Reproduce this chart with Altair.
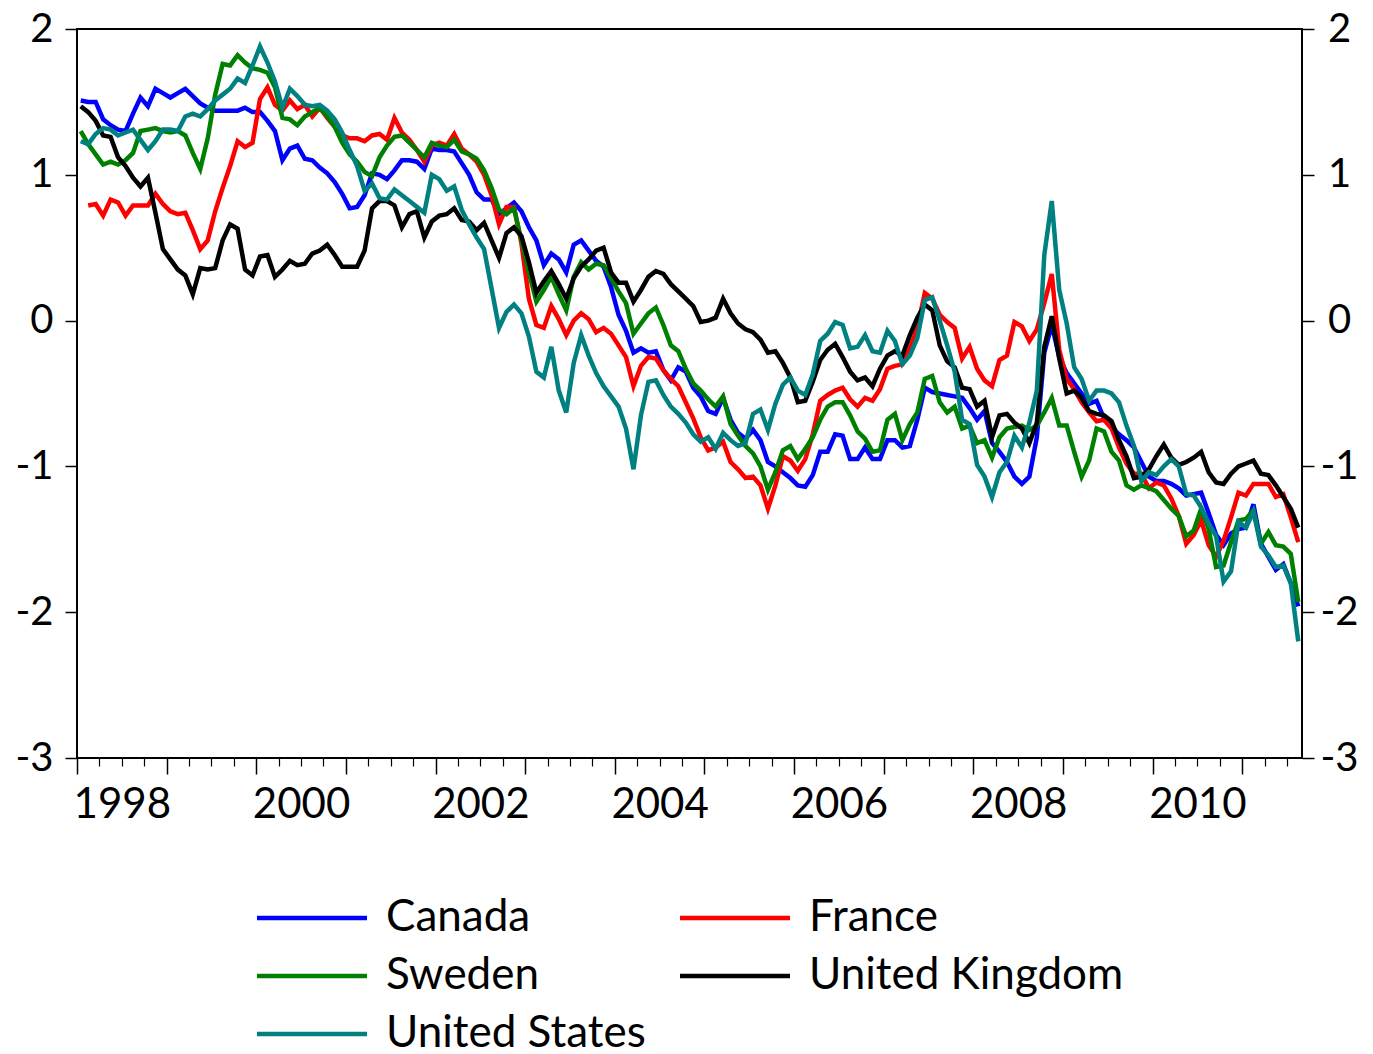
import altair as alt
import pandas as pd

countries = ["Canada", "France", "Sweden", "United Kingdom", "United States"]
colors = ["#0000FF", "#FF0000", "#008000", "#000000", "#008080"]
# legend fills column by column: Canada, Sweden, United States | France, United Kingdom
legend_order = ["Canada", "Sweden", "United States", "France", "United Kingdom"]

# monthly values, first month given by *_start (months after Jan 1998)
canada_start = 0
canada = [1.51,1.50,1.50,1.38,1.34,1.31,1.30,1.42,1.53,1.47,1.59,1.56,
 1.53,1.56,1.59,1.54,1.49,1.46,1.44,1.44,1.44,1.44,1.46,1.43,
 1.43,1.37,1.30,1.10,1.18,1.20,1.11,1.10,1.05,1.01,0.95,0.87,
 0.77,0.78,0.86,1.01,1.00,0.97,1.03,1.10,1.10,1.09,1.04,1.18,
 1.17,1.17,1.16,1.08,1.00,0.88,0.83,0.83,0.73,0.77,0.81,0.75,
 0.64,0.55,0.38,0.46,0.42,0.33,0.52,0.55,0.48,0.41,0.37,0.23,
 0.04,-0.07,-0.22,-0.19,-0.22,-0.21,-0.34,-0.41,-0.32,-0.35,-0.46,-0.52,
 -0.62,-0.64,-0.53,-0.68,-0.77,-0.81,-0.75,-0.82,-0.97,-1.00,-1.04,-1.08,
 -1.13,-1.14,-1.06,-0.90,-0.90,-0.78,-0.79,-0.95,-0.95,-0.87,-0.95,-0.95,
 -0.82,-0.82,-0.87,-0.86,-0.68,-0.46,-0.49,-0.50,-0.51,-0.52,-0.53,-0.60,
 -0.68,-0.62,-0.84,-0.90,-0.97,-1.07,-1.12,-1.07,-0.80,-0.22,-0.03,-0.25,
 -0.36,-0.43,-0.50,-0.57,-0.55,-0.67,-0.73,-0.78,-0.82,-0.87,-0.97,-1.07,
 -1.10,-1.10,-1.12,-1.15,-1.20,-1.19,-1.18,-1.32,-1.47,-1.54,-1.46,-1.43,
 -1.42,-1.26,-1.53,-1.62,-1.71,-1.67,-1.80,-1.96]

france_start = 1
france = [0.79,0.80,0.72,0.83,0.81,0.72,0.79,0.79,0.79,0.87,0.80,
 0.75,0.73,0.74,0.62,0.49,0.55,0.75,0.91,1.06,1.23,1.19,1.22,
 1.52,1.60,1.48,1.44,1.51,1.45,1.48,1.40,1.46,1.39,1.33,1.27,
 1.25,1.25,1.23,1.27,1.28,1.24,1.39,1.29,1.24,1.17,1.09,1.20,
 1.22,1.20,1.28,1.18,1.14,1.09,1.00,0.86,0.66,0.78,0.78,0.53,
 0.15,-0.03,-0.05,0.10,0.01,-0.10,0.00,0.05,0.01,-0.08,-0.05,-0.09,
 -0.17,-0.25,-0.45,-0.31,-0.25,-0.26,-0.34,-0.40,-0.45,-0.56,-0.67,-0.80,
 -0.89,-0.87,-0.83,-0.97,-1.02,-1.08,-1.07,-1.13,-1.29,-1.13,-0.93,-0.96,
 -1.03,-0.95,-0.78,-0.55,-0.51,-0.48,-0.46,-0.54,-0.59,-0.53,-0.55,-0.47,
 -0.33,-0.31,-0.30,-0.19,-0.05,0.19,0.15,0.04,-0.01,-0.05,-0.26,-0.18,
 -0.33,-0.41,-0.45,-0.27,-0.24,-0.01,-0.04,-0.14,-0.06,0.12,0.32,-0.20,
 -0.40,-0.47,-0.56,-0.63,-0.69,-0.68,-0.74,-0.87,-0.98,-1.05,-1.05,-1.15,
 -1.11,-1.13,-1.22,-1.34,-1.53,-1.47,-1.37,-1.54,-1.62,-1.51,-1.35,-1.18,
 -1.20,-1.12,-1.12,-1.12,-1.21,-1.19,-1.35,-1.52]

sweden_start = 0
sweden = [1.30,1.21,1.14,1.07,1.09,1.07,1.10,1.15,1.30,1.31,1.32,1.30,
 1.29,1.30,1.27,1.15,1.04,1.25,1.55,1.76,1.75,1.82,1.77,1.73,
 1.72,1.70,1.60,1.39,1.38,1.34,1.40,1.43,1.46,1.40,1.33,1.22,
 1.14,1.09,1.02,0.99,1.12,1.20,1.26,1.27,1.22,1.17,1.12,1.22,
 1.20,1.19,1.24,1.16,1.14,1.11,1.03,0.91,0.76,0.73,0.77,0.55,
 0.33,0.13,0.21,0.30,0.18,0.07,0.30,0.40,0.35,0.39,0.38,0.29,
 0.20,0.12,-0.09,-0.02,0.05,0.09,-0.03,-0.17,-0.21,-0.33,-0.43,-0.48,
 -0.54,-0.59,-0.52,-0.71,-0.79,-0.86,-0.91,-1.00,-1.16,-1.04,-0.89,-0.86,
 -0.95,-0.88,-0.80,-0.68,-0.59,-0.56,-0.56,-0.65,-0.76,-0.81,-0.90,-0.89,
 -0.68,-0.64,-0.82,-0.71,-0.63,-0.40,-0.38,-0.56,-0.63,-0.59,-0.74,-0.72,
 -0.84,-0.82,-0.94,-0.80,-0.74,-0.73,-0.72,-0.75,-0.72,-0.63,-0.53,-0.72,
 -0.72,-0.90,-1.07,-0.96,-0.74,-0.76,-0.90,-0.96,-1.13,-1.16,-1.13,-1.15,
 -1.17,-1.23,-1.29,-1.34,-1.48,-1.44,-1.29,-1.43,-1.69,-1.68,-1.52,-1.37,
 -1.36,-1.30,-1.53,-1.45,-1.54,-1.55,-1.60,-1.93]

uk_start = 0
uk = [1.47,1.43,1.37,1.27,1.26,1.12,1.06,0.98,0.92,0.98,0.74,0.49,
 0.42,0.35,0.31,0.18,0.36,0.35,0.36,0.55,0.66,0.63,0.35,0.31,
 0.44,0.45,0.30,0.35,0.41,0.38,0.39,0.46,0.48,0.52,0.45,0.37,
 0.37,0.37,0.48,0.77,0.82,0.82,0.79,0.64,0.73,0.75,0.57,0.68,
 0.72,0.73,0.77,0.69,0.68,0.62,0.67,0.55,0.43,0.60,0.64,0.58,
 0.40,0.19,0.27,0.34,0.25,0.15,0.29,0.37,0.42,0.48,0.50,0.33,
 0.26,0.26,0.13,0.21,0.30,0.34,0.32,0.25,0.20,0.15,0.10,-0.01,
 0.00,0.02,0.15,0.05,-0.02,-0.06,-0.08,-0.13,-0.22,-0.21,-0.29,-0.39,
 -0.56,-0.55,-0.42,-0.27,-0.20,-0.16,-0.25,-0.35,-0.41,-0.39,-0.45,-0.33,
 -0.24,-0.21,-0.24,-0.10,0.02,0.11,0.07,-0.17,-0.28,-0.32,-0.46,-0.47,
 -0.59,-0.55,-0.80,-0.65,-0.64,-0.70,-0.74,-0.84,-0.70,-0.18,0.03,-0.26,
 -0.50,-0.48,-0.53,-0.62,-0.64,-0.65,-0.69,-0.82,-0.93,-1.08,-1.07,-1.02,
 -0.93,-0.85,-0.94,-0.99,-0.97,-0.94,-0.90,-1.04,-1.11,-1.12,-1.05,-1.00,
 -0.98,-0.96,-1.05,-1.06,-1.13,-1.21,-1.29,-1.42]

us_start = 0
us = [1.23,1.21,1.28,1.32,1.31,1.27,1.29,1.31,1.24,1.17,1.23,1.31,
 1.31,1.30,1.40,1.42,1.40,1.45,1.51,1.55,1.59,1.66,1.63,1.75,
 1.88,1.77,1.64,1.46,1.59,1.54,1.48,1.47,1.48,1.44,1.38,1.29,
 1.17,1.06,0.89,0.94,0.84,0.83,0.90,0.86,0.82,0.78,0.74,1.00,
 0.97,0.89,0.92,0.76,0.66,0.57,0.49,0.22,-0.05,0.06,0.11,0.05,
 -0.11,-0.35,-0.39,-0.18,-0.48,-0.63,-0.29,-0.10,-0.24,-0.36,-0.45,-0.52,
 -0.59,-0.74,-1.02,-0.65,-0.42,-0.41,-0.51,-0.59,-0.64,-0.70,-0.78,-0.83,
 -0.80,-0.88,-0.77,-0.82,-0.86,-0.84,-0.64,-0.61,-0.75,-0.57,-0.44,-0.39,
 -0.48,-0.51,-0.37,-0.14,-0.09,-0.01,-0.03,-0.19,-0.18,-0.10,-0.21,-0.22,
 -0.07,-0.14,-0.30,-0.24,-0.12,0.14,0.16,0.00,-0.17,-0.35,-0.68,-0.71,
 -0.99,-1.07,-1.21,-1.04,-0.97,-0.79,-0.87,-0.70,-0.48,0.45,0.82,0.21,
 -0.02,-0.32,-0.40,-0.55,-0.48,-0.48,-0.50,-0.56,-0.72,-0.86,-1.10,-1.04,
 -1.06,-1.00,-0.95,-1.00,-1.19,-1.20,-1.28,-1.39,-1.48,-1.79,-1.72,-1.38,
 -1.42,-1.31,-1.55,-1.61,-1.69,-1.68,-1.80,-2.20]

y_ticks = [-3, -2, -1, 0, 1, 2]
year_ticks = list(range(1998, 2012))
label_years = [1998, 2000, 2002, 2004, 2006, 2008, 2010]

series = [("Canada", canada_start, canada), ("France", france_start, france),
          ("Sweden", sweden_start, sweden), ("United Kingdom", uk_start, uk),
          ("United States", us_start, us)]
rows = []
for name, start, vals in series:
    for k, v in enumerate(vals):
        rows.append({"country": name, "t": 1998 + (start + k + 0.5) / 12.0, "value": v})
df = pd.DataFrame(rows)

quarter_ticks = [y + q / 4 for y in range(1998, 2012) for q in (1, 2, 3) if y + q / 4 < 2011.66]
label_pos = [y + 0.5 for y in label_years]

FONT = "Lato"
HYPHEN = "datum.value < 0 ? '-' + abs(datum.value) : '' + datum.value"
x_scale = alt.Scale(domain=[1998, 2011 + 8 / 12], nice=False, zero=False)
y_scale = alt.Scale(domain=[-3, 2], nice=False, zero=False)
color_map = dict(zip(countries, colors))

base = alt.Chart(df)

lines = base.mark_line(strokeWidth=4.5).encode(
    x=alt.X("t:Q", scale=x_scale, title=None,
            axis=alt.Axis(orient="bottom", values=label_pos, labelExpr="floor(datum.value)",
                          tickSize=0, domain=False, grid=False, labelFont=FONT,
                          labelFontSize=42, labelColor="black", labelPadding=26,
                          labelFlush=False, labelOverlap=False)),
    y=alt.Y("value:Q", scale=y_scale, title=None,
            axis=alt.Axis(orient="left", values=y_ticks, tickSize=12, tickWidth=1.5,
                          tickColor="black", domain=False, grid=False, labelFont=FONT,
                          labelFontSize=40, labelColor="black", labelPadding=12,
                          labelAlign="right", labelBaseline="middle", labelFlush=False,
                          labelExpr=HYPHEN)),
    color=alt.Color("country:N",
                    scale=alt.Scale(domain=legend_order, range=[color_map[c] for c in legend_order]),
                    legend=alt.Legend(orient="none", legendX=213, legendY=867, columns=2,
                                      title=None, symbolType="M-55,0H55", symbolSize=4,
                                      symbolStrokeWidth=4.5, labelFont=FONT, labelFontSize=44,
                                      labelColor="black", labelOffset=52, labelLimit=500,
                                      rowPadding=14, columnPadding=25, padding=0)),
)

major = base.mark_line(strokeOpacity=0).encode(
    x=alt.X("t:Q", scale=x_scale, title=None,
            axis=alt.Axis(orient="bottom", values=year_ticks, tickSize=16, tickWidth=1.5,
                          tickColor="black", labels=False, domain=False, grid=False)),
    y=alt.Y("value:Q", scale=y_scale, axis=None),
)

minor = base.mark_line(strokeOpacity=0).encode(
    x=alt.X("t:Q", scale=x_scale, title=None,
            axis=alt.Axis(orient="bottom", values=quarter_ticks, tickSize=8, tickWidth=1.2,
                          tickColor="black", labels=False, domain=False, grid=False)),
    y=alt.Y("value:Q", scale=y_scale, axis=None),
)

right = base.mark_line(strokeOpacity=0).encode(
    x=alt.X("t:Q", scale=x_scale, axis=None),
    y=alt.Y("value:Q", scale=y_scale, title=None,
            axis=alt.Axis(orient="right", values=y_ticks, tickSize=12, tickWidth=1.5,
                          tickColor="black", domain=False, grid=False, labelFont=FONT,
                          labelFontSize=40, labelColor="black", labelPadding=25,
                          labelAlign="center", labelBaseline="middle", labelFlush=False,
                          labelExpr=HYPHEN)),
)

chart = alt.layer(lines, major, minor, right).resolve_axis(
    x="independent", y="independent"
).properties(
    width=1225, height=729,
    autosize=alt.AutoSizeParams(type="none"),
    padding={"left": 69, "top": 21, "right": 63, "bottom": 296},
).configure_view(stroke="black", strokeWidth=2)

chart.save("out.html", embed_options={"renderer": "svg", "actions": False})
